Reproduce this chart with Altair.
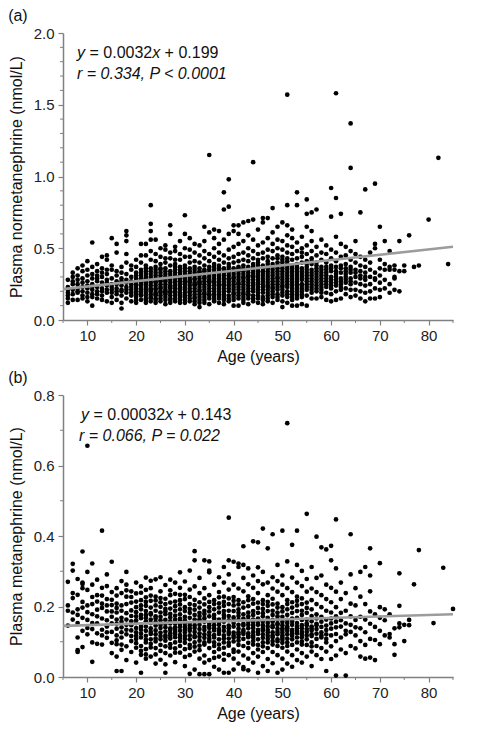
import altair as alt
import pandas as pd

# ---------------- Panel (a): plasma normetanephrine (nmol/L) by age ----------------
ages_a = [6, 7, 8, 9, 10, 11, 12, 13, 14, 15, 16, 17, 18, 19, 20, 21, 22, 23, 24, 25,
          26, 27, 28, 29, 30, 31, 32, 33, 34, 35, 36, 37, 38, 39, 40, 41, 42, 43, 44, 45,
          46, 47, 48, 49, 50, 51, 52, 53, 54, 55, 56, 57, 58, 59, 60, 61, 62, 63, 64, 65,
          66, 67, 68, 69, 70, 71, 72, 73, 74, 75, 76, 77, 78, 80, 82, 84]
nmn_a = [
    [0.12, 0.17, 0.19, 0.23, 0.28, 0.21, 0.15],
    [0.14, 0.21, 0.25, 0.30, 0.18, 0.27, 0.33],
    [0.19, 0.22, 0.28, 0.31, 0.36, 0.14, 0.25, 0.20],
    [0.17, 0.23, 0.26, 0.29, 0.34, 0.38, 0.20, 0.15],
    [0.16, 0.19, 0.24, 0.27, 0.31, 0.35, 0.22, 0.41, 0.13],
    [0.10, 0.18, 0.21, 0.25, 0.29, 0.32, 0.54, 0.37, 0.23, 0.16],
    [0.15, 0.20, 0.23, 0.27, 0.31, 0.34, 0.29, 0.39, 0.18],
    [0.17, 0.22, 0.26, 0.30, 0.33, 0.36, 0.20, 0.44, 0.14],
    [0.13, 0.19, 0.24, 0.28, 0.32, 0.42, 0.45, 0.26, 0.21, 0.35],
    [0.16, 0.21, 0.25, 0.29, 0.35, 0.38, 0.57, 0.23, 0.19, 0.12],
    [0.14, 0.18, 0.22, 0.27, 0.31, 0.34, 0.47, 0.53, 0.25, 0.20],
    [0.08, 0.12, 0.20, 0.24, 0.29, 0.33, 0.37, 0.21, 0.27, 0.17],
    [0.15, 0.19, 0.23, 0.28, 0.32, 0.46, 0.55, 0.62, 0.59, 0.40, 0.26, 0.21],
    [0.13, 0.17, 0.21, 0.25, 0.30, 0.35, 0.38, 0.27, 0.23, 0.19],
    [0.12, 0.16, 0.20, 0.24, 0.29, 0.33, 0.37, 0.42, 0.27, 0.19, 0.22, 0.14, 0.31, 0.18, 0.25],
    [0.14, 0.18, 0.22, 0.26, 0.31, 0.35, 0.40, 0.53, 0.28, 0.20, 0.17, 0.24, 0.45, 0.33, 0.21, 0.29],
    [0.12, 0.15, 0.19, 0.23, 0.27, 0.30, 0.34, 0.38, 0.45, 0.53, 0.21, 0.25, 0.17, 0.29, 0.32, 0.14, 0.36, 0.26],
    [0.13, 0.16, 0.20, 0.24, 0.28, 0.32, 0.36, 0.42, 0.48, 0.62, 0.67, 0.80, 0.22, 0.18, 0.26, 0.56, 0.30, 0.15, 0.34, 0.21],
    [0.12, 0.15, 0.19, 0.22, 0.26, 0.29, 0.33, 0.37, 0.41, 0.46, 0.56, 0.24, 0.17, 0.21, 0.31, 0.35, 0.27, 0.14, 0.18],
    [0.13, 0.17, 0.20, 0.23, 0.27, 0.31, 0.35, 0.39, 0.44, 0.50, 0.25, 0.19, 0.29, 0.15, 0.33, 0.22, 0.28, 0.36],
    [0.14, 0.18, 0.21, 0.25, 0.28, 0.32, 0.36, 0.40, 0.49, 0.52, 0.23, 0.16, 0.30, 0.43, 0.11, 0.20, 0.27, 0.34, 0.19],
    [0.12, 0.15, 0.19, 0.22, 0.26, 0.30, 0.34, 0.38, 0.43, 0.60, 0.66, 0.24, 0.17, 0.28, 0.20, 0.47, 0.32, 0.14, 0.23],
    [0.13, 0.17, 0.20, 0.24, 0.27, 0.31, 0.35, 0.39, 0.48, 0.51, 0.22, 0.29, 0.15, 0.33, 0.42, 0.19, 0.26, 0.37],
    [0.14, 0.18, 0.21, 0.25, 0.29, 0.33, 0.37, 0.42, 0.46, 0.55, 0.23, 0.19, 0.27, 0.31, 0.12, 0.16, 0.35, 0.22, 0.28],
    [0.12, 0.16, 0.19, 0.23, 0.27, 0.30, 0.34, 0.38, 0.44, 0.60, 0.73, 0.25, 0.21, 0.29, 0.17, 0.50, 0.32, 0.14, 0.26, 0.36],
    [0.13, 0.17, 0.20, 0.24, 0.28, 0.32, 0.36, 0.40, 0.49, 0.57, 0.22, 0.26, 0.15, 0.30, 0.44, 0.19, 0.34, 0.27],
    [0.11, 0.15, 0.18, 0.22, 0.26, 0.29, 0.33, 0.37, 0.41, 0.47, 0.24, 0.20, 0.28, 0.31, 0.53, 0.16, 0.35, 0.25, 0.13],
    [0.09, 0.14, 0.18, 0.21, 0.25, 0.29, 0.33, 0.36, 0.40, 0.45, 0.52, 0.23, 0.27, 0.16, 0.31, 0.12, 0.20, 0.34, 0.26],
    [0.12, 0.16, 0.19, 0.23, 0.27, 0.30, 0.34, 0.38, 0.43, 0.48, 0.55, 0.25, 0.21, 0.29, 0.35, 0.65, 0.18, 0.32, 0.14],
    [0.11, 0.15, 0.18, 0.22, 0.26, 0.30, 0.33, 0.37, 0.41, 0.46, 0.61, 1.15, 0.24, 0.20, 0.28, 0.32, 0.17, 0.35, 0.27],
    [0.13, 0.16, 0.20, 0.24, 0.27, 0.31, 0.35, 0.39, 0.44, 0.50, 0.57, 0.22, 0.26, 0.29, 0.18, 0.63, 0.33, 0.14, 0.37],
    [0.12, 0.15, 0.19, 0.23, 0.26, 0.30, 0.34, 0.38, 0.42, 0.47, 0.53, 0.62, 0.25, 0.21, 0.28, 0.32, 0.17, 0.36, 0.24],
    [0.11, 0.14, 0.18, 0.22, 0.25, 0.29, 0.33, 0.36, 0.40, 0.45, 0.56, 0.89, 0.77, 0.24, 0.27, 0.20, 0.31, 0.16, 0.35],
    [0.13, 0.17, 0.20, 0.24, 0.28, 0.31, 0.35, 0.39, 0.43, 0.49, 0.60, 0.98, 0.79, 0.26, 0.22, 0.29, 0.33, 0.15, 0.37],
    [0.10, 0.14, 0.18, 0.21, 0.25, 0.29, 0.32, 0.36, 0.40, 0.44, 0.51, 0.62, 0.23, 0.27, 0.19, 0.34, 0.66, 0.16, 0.30],
    [0.10, 0.15, 0.19, 0.23, 0.26, 0.30, 0.34, 0.37, 0.41, 0.46, 0.53, 0.66, 0.25, 0.21, 0.28, 0.32, 0.60, 0.17, 0.36],
    [0.12, 0.16, 0.19, 0.23, 0.27, 0.30, 0.34, 0.38, 0.42, 0.47, 0.55, 0.68, 0.25, 0.21, 0.29, 0.36, 0.14, 0.32, 0.18],
    [0.11, 0.15, 0.18, 0.22, 0.26, 0.30, 0.33, 0.37, 0.41, 0.45, 0.50, 0.59, 0.24, 0.20, 0.28, 0.35, 0.69, 0.17, 0.31],
    [0.13, 0.17, 0.20, 0.24, 0.28, 0.31, 0.35, 0.39, 0.43, 0.48, 0.56, 0.70, 1.10, 0.26, 0.22, 0.30, 0.37, 0.15, 0.33],
    [0.12, 0.15, 0.19, 0.23, 0.26, 0.30, 0.34, 0.38, 0.42, 0.46, 0.52, 0.63, 0.25, 0.21, 0.28, 0.32, 0.36, 0.17, 0.40],
    [0.11, 0.16, 0.19, 0.23, 0.27, 0.31, 0.34, 0.38, 0.43, 0.47, 0.54, 0.68, 0.25, 0.21, 0.29, 0.36, 0.71, 0.14, 0.33],
    [0.13, 0.17, 0.21, 0.24, 0.28, 0.32, 0.36, 0.39, 0.44, 0.49, 0.57, 0.71, 0.26, 0.23, 0.30, 0.34, 0.19, 0.41, 0.15],
    [0.12, 0.16, 0.20, 0.23, 0.27, 0.31, 0.35, 0.39, 0.43, 0.48, 0.53, 0.61, 0.78, 0.25, 0.29, 0.33, 0.37, 0.18, 0.22],
    [0.14, 0.18, 0.21, 0.25, 0.29, 0.32, 0.36, 0.40, 0.45, 0.50, 0.56, 0.65, 0.27, 0.23, 0.30, 0.34, 0.38, 0.16, 0.43],
    [0.09, 0.13, 0.17, 0.21, 0.24, 0.28, 0.32, 0.36, 0.40, 0.44, 0.49, 0.55, 0.68, 0.26, 0.30, 0.34, 0.38, 0.42, 0.19, 0.23],
    [0.12, 0.16, 0.20, 0.23, 0.27, 0.31, 0.35, 0.39, 0.43, 0.47, 0.52, 0.59, 0.80, 1.57, 0.25, 0.29, 0.33, 0.37, 0.66, 0.18, 0.41],
    [0.10, 0.14, 0.18, 0.22, 0.26, 0.30, 0.34, 0.38, 0.42, 0.46, 0.51, 0.57, 0.63, 0.24, 0.28, 0.32, 0.36, 0.20, 0.16],
    [0.10, 0.15, 0.19, 0.23, 0.27, 0.31, 0.35, 0.39, 0.43, 0.48, 0.54, 0.89, 0.80, 0.25, 0.29, 0.33, 0.37, 0.21, 0.17],
    [0.11, 0.16, 0.20, 0.24, 0.28, 0.32, 0.36, 0.40, 0.44, 0.50, 0.58, 0.25, 0.30, 0.34, 0.47, 0.22, 0.18],
    [0.10, 0.17, 0.21, 0.25, 0.29, 0.33, 0.37, 0.41, 0.46, 0.52, 0.84, 0.74, 0.65, 0.27, 0.31, 0.35, 0.23, 0.39],
    [0.15, 0.19, 0.23, 0.27, 0.31, 0.35, 0.39, 0.43, 0.48, 0.55, 0.75, 0.62, 0.29, 0.33, 0.41, 0.21, 0.25],
    [0.15, 0.20, 0.24, 0.28, 0.32, 0.36, 0.40, 0.45, 0.51, 0.77, 0.26, 0.30, 0.34, 0.22, 0.38],
    [0.16, 0.21, 0.25, 0.29, 0.33, 0.37, 0.42, 0.47, 0.56, 0.27, 0.31, 0.35, 0.23, 0.19],
    [0.14, 0.19, 0.23, 0.27, 0.31, 0.35, 0.40, 0.46, 0.52, 0.29, 0.33, 0.25, 0.37],
    [0.13, 0.18, 0.22, 0.26, 0.30, 0.34, 0.38, 0.43, 0.49, 0.92, 0.72, 0.28, 0.36, 0.24],
    [0.14, 0.20, 0.24, 0.28, 0.32, 0.37, 0.41, 0.47, 0.58, 1.58, 0.85, 0.30, 0.34, 0.26],
    [0.15, 0.21, 0.25, 0.29, 0.33, 0.38, 0.44, 0.53, 0.74, 0.27, 0.36, 0.23],
    [0.18, 0.22, 0.26, 0.30, 0.34, 0.39, 0.45, 0.51, 0.28, 0.32, 0.36],
    [0.16, 0.21, 0.25, 0.29, 0.33, 0.37, 0.42, 0.48, 1.37, 1.06, 0.35, 0.27],
    [0.17, 0.21, 0.26, 0.30, 0.35, 0.40, 0.46, 0.55, 0.33],
    [0.15, 0.20, 0.25, 0.29, 0.34, 0.38, 0.44, 0.75, 0.31],
    [0.13, 0.19, 0.24, 0.28, 0.33, 0.37, 0.42, 0.91, 0.30],
    [0.15, 0.20, 0.25, 0.30, 0.35, 0.40, 0.47],
    [0.15, 0.22, 0.28, 0.29, 0.33, 0.53, 0.50, 0.95],
    [0.16, 0.21, 0.26, 0.31, 0.36, 0.65, 0.42],
    [0.22, 0.28, 0.35, 0.39, 0.55],
    [0.19, 0.25, 0.37, 0.35, 0.48],
    [0.21, 0.29, 0.30, 0.38, 0.35],
    [0.20, 0.34, 0.55],
    [0.34, 0.38],
    [0.59],
    [0.37],
    [0.38],
    [0.70],
    [1.13],
    [0.39],
]

# ---------------- Panel (b): plasma metanephrine (nmol/L) by age ----------------
ages_b = [6, 7, 8, 9, 10, 11, 12, 13, 14, 15, 16, 17, 18, 19, 20, 21, 22, 23, 24, 25,
          26, 27, 28, 29, 30, 31, 32, 33, 34, 35, 36, 37, 38, 39, 40, 41, 42, 43, 44, 45,
          46, 47, 48, 49, 50, 51, 52, 53, 54, 55, 56, 57, 58, 59, 60, 61, 62, 63, 64, 65,
          66, 67, 68, 69, 70, 71, 72, 73, 74, 75, 76, 77, 78, 81, 83, 85]
mn_b = [
    [0.27, 0.203, 0.146, 0.188],
    [0.321, 0.302, 0.183, 0.224, 0.163, 0.238],
    [0.071, 0.112, 0.153, 0.192, 0.233, 0.278, 0.176, 0.076],
    [0.085, 0.131, 0.168, 0.213, 0.268, 0.356, 0.252, 0.197, 0.264],
    [0.656, 0.121, 0.162, 0.203, 0.247, 0.298, 0.184, 0.139],
    [0.043, 0.098, 0.136, 0.178, 0.227, 0.322, 0.262, 0.207, 0.153],
    [0.124, 0.152, 0.191, 0.232, 0.276, 0.214, 0.172, 0.094],
    [0.092, 0.134, 0.166, 0.208, 0.253, 0.415, 0.196, 0.231, 0.118],
    [0.111, 0.143, 0.186, 0.221, 0.258, 0.291, 0.161, 0.203, 0.127],
    [0.068, 0.097, 0.128, 0.171, 0.204, 0.241, 0.327, 0.186, 0.152, 0.219],
    [0.017, 0.058, 0.093, 0.118, 0.151, 0.183, 0.208, 0.252, 0.137, 0.196, 0.231, 0.104, 0.163],
    [0.017, 0.077, 0.112, 0.141, 0.168, 0.203, 0.238, 0.272, 0.127, 0.188, 0.157, 0.092],
    [0.048, 0.087, 0.121, 0.148, 0.181, 0.228, 0.262, 0.298, 0.163, 0.207, 0.134, 0.246],
    [0.071, 0.102, 0.132, 0.173, 0.211, 0.243, 0.147, 0.189, 0.116, 0.227, 0.158],
    [0.041, 0.083, 0.108, 0.139, 0.172, 0.198, 0.237, 0.268, 0.127, 0.184, 0.153, 0.096, 0.214, 0.117, 0.161],
    [0.012, 0.063, 0.088, 0.123, 0.149, 0.192, 0.218, 0.257, 0.142, 0.167, 0.203, 0.112, 0.239, 0.176, 0.134, 0.074],
    [0.052, 0.079, 0.117, 0.143, 0.168, 0.202, 0.247, 0.282, 0.131, 0.158, 0.187, 0.098, 0.226, 0.064, 0.213, 0.106, 0.176],
    [0.058, 0.094, 0.122, 0.153, 0.181, 0.216, 0.252, 0.273, 0.138, 0.177, 0.107, 0.197, 0.128, 0.163, 0.084, 0.231],
    [0.038, 0.082, 0.109, 0.146, 0.166, 0.203, 0.228, 0.277, 0.132, 0.156, 0.188, 0.101, 0.217, 0.121, 0.172, 0.064],
    [0.049, 0.091, 0.126, 0.148, 0.183, 0.212, 0.243, 0.283, 0.139, 0.171, 0.116, 0.199, 0.074, 0.161, 0.107, 0.224],
    [0.012, 0.068, 0.103, 0.129, 0.162, 0.193, 0.222, 0.261, 0.151, 0.118, 0.178, 0.087, 0.207, 0.036, 0.141, 0.112, 0.186],
    [0.061, 0.093, 0.124, 0.152, 0.179, 0.211, 0.246, 0.276, 0.138, 0.169, 0.109, 0.194, 0.133, 0.232, 0.158, 0.083, 0.117],
    [0.042, 0.081, 0.113, 0.141, 0.174, 0.201, 0.236, 0.268, 0.128, 0.163, 0.188, 0.098, 0.122, 0.214, 0.152, 0.069, 0.136],
    [0.069, 0.102, 0.131, 0.166, 0.192, 0.218, 0.253, 0.297, 0.119, 0.148, 0.178, 0.206, 0.088, 0.142, 0.159, 0.111, 0.233],
    [0.031, 0.079, 0.108, 0.142, 0.171, 0.198, 0.233, 0.271, 0.126, 0.161, 0.187, 0.097, 0.221, 0.152, 0.057, 0.134, 0.116],
    [0.009, 0.062, 0.091, 0.118, 0.153, 0.182, 0.207, 0.248, 0.302, 0.138, 0.168, 0.107, 0.193, 0.131, 0.227, 0.146, 0.082],
    [0.021, 0.072, 0.098, 0.128, 0.163, 0.191, 0.219, 0.257, 0.357, 0.117, 0.147, 0.176, 0.086, 0.204, 0.331, 0.139, 0.113],
    [0.008, 0.052, 0.089, 0.114, 0.148, 0.173, 0.212, 0.238, 0.281, 0.136, 0.163, 0.103, 0.197, 0.076, 0.124, 0.158, 0.182],
    [0.008, 0.061, 0.098, 0.133, 0.157, 0.188, 0.223, 0.252, 0.331, 0.121, 0.142, 0.179, 0.092, 0.206, 0.041, 0.111, 0.167],
    [0.008, 0.048, 0.082, 0.108, 0.139, 0.172, 0.198, 0.232, 0.302, 0.328, 0.127, 0.153, 0.186, 0.101, 0.213, 0.297, 0.146, 0.118],
    [0.029, 0.071, 0.098, 0.132, 0.158, 0.192, 0.218, 0.262, 0.119, 0.147, 0.176, 0.088, 0.207, 0.138, 0.054, 0.167, 0.112],
    [0.021, 0.058, 0.092, 0.122, 0.148, 0.183, 0.209, 0.241, 0.283, 0.136, 0.163, 0.107, 0.197, 0.079, 0.226, 0.128, 0.154],
    [0.012, 0.049, 0.083, 0.109, 0.142, 0.168, 0.202, 0.228, 0.268, 0.312, 0.131, 0.157, 0.187, 0.098, 0.213, 0.066, 0.118, 0.176],
    [0.012, 0.062, 0.097, 0.128, 0.161, 0.188, 0.223, 0.248, 0.291, 0.452, 0.122, 0.146, 0.173, 0.089, 0.207, 0.138, 0.331, 0.109],
    [0.021, 0.052, 0.078, 0.112, 0.143, 0.169, 0.203, 0.227, 0.262, 0.327, 0.126, 0.153, 0.187, 0.101, 0.216, 0.118, 0.071, 0.161],
    [0.038, 0.072, 0.103, 0.127, 0.162, 0.192, 0.218, 0.251, 0.312, 0.121, 0.148, 0.173, 0.091, 0.206, 0.137, 0.322, 0.113, 0.182],
    [0.028, 0.061, 0.088, 0.122, 0.151, 0.178, 0.212, 0.243, 0.281, 0.318, 0.371, 0.133, 0.166, 0.108, 0.197, 0.128, 0.022, 0.146],
    [0.019, 0.052, 0.082, 0.113, 0.138, 0.172, 0.201, 0.229, 0.263, 0.308, 0.124, 0.157, 0.183, 0.097, 0.218, 0.148, 0.117, 0.163],
    [0.041, 0.068, 0.102, 0.128, 0.163, 0.187, 0.221, 0.253, 0.288, 0.118, 0.147, 0.176, 0.092, 0.208, 0.139, 0.112, 0.385, 0.156],
    [0.012, 0.058, 0.091, 0.122, 0.148, 0.182, 0.211, 0.238, 0.272, 0.311, 0.382, 0.134, 0.166, 0.107, 0.196, 0.128, 0.153, 0.078],
    [0.031, 0.071, 0.098, 0.132, 0.158, 0.193, 0.218, 0.263, 0.298, 0.421, 0.121, 0.147, 0.172, 0.087, 0.207, 0.138, 0.111, 0.181],
    [0.017, 0.051, 0.082, 0.108, 0.143, 0.168, 0.202, 0.232, 0.268, 0.365, 0.126, 0.153, 0.187, 0.098, 0.213, 0.117, 0.162, 0.133],
    [0.039, 0.071, 0.102, 0.127, 0.162, 0.188, 0.222, 0.251, 0.283, 0.405, 0.118, 0.146, 0.176, 0.092, 0.206, 0.141, 0.113, 0.157],
    [0.012, 0.062, 0.088, 0.121, 0.152, 0.183, 0.208, 0.242, 0.272, 0.318, 0.137, 0.163, 0.107, 0.197, 0.128, 0.101, 0.148, 0.172],
    [0.021, 0.052, 0.083, 0.112, 0.138, 0.171, 0.198, 0.232, 0.262, 0.288, 0.415, 0.126, 0.157, 0.186, 0.097, 0.118, 0.147, 0.133, 0.106],
    [0.038, 0.072, 0.098, 0.131, 0.162, 0.192, 0.218, 0.252, 0.328, 0.72, 0.121, 0.143, 0.176, 0.088, 0.207, 0.138, 0.109, 0.153],
    [0.029, 0.062, 0.091, 0.122, 0.148, 0.182, 0.212, 0.241, 0.282, 0.375, 0.134, 0.166, 0.107, 0.197, 0.128, 0.158, 0.117],
    [0.048, 0.078, 0.112, 0.138, 0.168, 0.203, 0.228, 0.268, 0.318, 0.415, 0.124, 0.153, 0.187, 0.098, 0.216, 0.143, 0.131],
    [0.041, 0.068, 0.101, 0.128, 0.162, 0.188, 0.223, 0.258, 0.301, 0.121, 0.147, 0.176, 0.092, 0.207, 0.138, 0.113],
    [0.058, 0.091, 0.118, 0.152, 0.182, 0.211, 0.242, 0.278, 0.463, 0.136, 0.163, 0.107, 0.196, 0.128, 0.147],
    [0.031, 0.072, 0.098, 0.132, 0.158, 0.192, 0.218, 0.251, 0.312, 0.121, 0.143, 0.173, 0.087, 0.138, 0.116],
    [0.062, 0.088, 0.123, 0.151, 0.178, 0.207, 0.241, 0.281, 0.398, 0.136, 0.166, 0.108, 0.147],
    [0.051, 0.082, 0.112, 0.142, 0.171, 0.198, 0.232, 0.288, 0.368, 0.127, 0.157, 0.118],
    [0.017, 0.072, 0.098, 0.133, 0.163, 0.188, 0.221, 0.262, 0.362, 0.121, 0.146, 0.108],
    [0.051, 0.087, 0.118, 0.152, 0.183, 0.212, 0.253, 0.331, 0.372, 0.137, 0.166],
    [0.004, 0.061, 0.102, 0.141, 0.172, 0.198, 0.242, 0.308, 0.447, 0.122, 0.157],
    [0.078, 0.112, 0.143, 0.182, 0.221, 0.268, 0.161],
    [0.004, 0.068, 0.121, 0.152, 0.188, 0.238, 0.131],
    [0.088, 0.128, 0.172, 0.208, 0.291, 0.405, 0.148],
    [0.081, 0.118, 0.162, 0.203, 0.252, 0.141],
    [0.058, 0.102, 0.138, 0.171, 0.228, 0.298],
    [0.052, 0.091, 0.127, 0.163, 0.207, 0.312],
    [0.055, 0.108, 0.151, 0.186, 0.288, 0.243, 0.365],
    [0.048, 0.105, 0.142, 0.178],
    [0.093, 0.131, 0.168, 0.323, 0.198],
    [0.118, 0.161, 0.192],
    [0.112, 0.122, 0.178],
    [0.063, 0.093, 0.138],
    [0.141, 0.152, 0.294, 0.202],
    [0.148, 0.102],
    [0.162, 0.147],
    [0.263],
    [0.36],
    [0.153],
    [0.31],
    [0.193],
]

# fitted lines (end points)
fit_age = [5, 85]
fit_a = [0.215, 0.51]
fit_b = [0.145, 0.178]

# axis tick values
x_major = [10, 20, 30, 40, 50, 60, 70, 80]
x_minor = [5, 15, 25, 35, 45, 55, 65, 75, 85]
ya_major = [0.0, 0.5, 1.0, 1.5, 2.0]
ya_minor = [0.1, 0.2, 0.3, 0.4, 0.6, 0.7, 0.8, 0.9, 1.1, 1.2, 1.3, 1.4, 1.6, 1.7, 1.8, 1.9]
yb_major = [0.0, 0.2, 0.4, 0.6, 0.8]
yb_minor = [0.1, 0.3, 0.5, 0.7]

FONT = "Liberation Sans"
AX = "#808080"
W = 390
FS = 16


def expand(ages, vals):
    rows = [(a, v) for a, vs in zip(ages, vals) for v in vs]
    return pd.DataFrame(rows, columns=["age", "val"])


def txt(s, x, y, italic=False):
    return alt.Chart(pd.DataFrame({"t": [s]})).mark_text(
        align="left", baseline="middle", font=FONT, fontSize=FS,
        fontStyle="italic" if italic else "normal", color="#111111"
    ).encode(text="t:N", x=alt.value(x), y=alt.value(y))


def panel(df, H, ytitle, ydom, ymaj, ymin, fit_vals, eq_parts, eq_offsets, line2, x0_1, x0_2, label):
    xs = alt.Scale(domain=[5, 85], nice=False, zero=False)
    ys = alt.Scale(domain=ydom, nice=False, zero=False)
    xax = alt.Axis(values=x_major, format="d", title="Age (years)", titlePadding=5, labelPadding=3)
    yax = alt.Axis(values=ymaj, format=".1f", title=ytitle, titlePadding=9)
    X = alt.X("age:Q", scale=xs, axis=xax)
    Y = alt.Y("val:Q", scale=ys, axis=yax)
    pts = alt.Chart(df).mark_circle(size=22, color="black", opacity=1).encode(x=X, y=Y)
    fit = alt.Chart(pd.DataFrame({"age": fit_age, "val": fit_vals})).mark_line(
        color="#9c9c9c", strokeWidth=2.6
    ).encode(x=X, y=Y)
    ymt = alt.Chart(pd.DataFrame({"val": ymin})).mark_rule(color=AX, strokeWidth=1).encode(
        y=Y, x=alt.value(-3), x2=alt.value(0))
    xmt = alt.Chart(pd.DataFrame({"age": x_minor})).mark_rule(color=AX, strokeWidth=1).encode(
        x=X, y=alt.value(H), y2=alt.value(H + 3))
    texts = []
    for (s, it), off in zip(eq_parts, eq_offsets):
        texts.append(txt(s, x0_1 + off, 20, it))
    texts.append(txt(line2, x0_2, 41, True))
    return alt.layer(pts, fit, ymt, xmt, *texts).properties(
        width=W, height=H,
        title=alt.Title(label, anchor="start", frame="bounds", fontSize=FS, font=FONT,
                        fontWeight="normal", color="#111111", offset=2),
    )


pa = panel(expand(ages_a, nmn_a), 287, "Plasma normetanephrine (nmol/L)", [0, 2.0], ya_major, ya_minor,
           fit_a, [("y", True), ("= 0.0032", False), ("x", True), ("+ 0.199", False)],
           [0, 12.5, 75.2, 87.6], "r = 0.334,  P < 0.0001", 14, 14, "(a)")
pb = panel(expand(ages_b, mn_b), 282, "Plasma metanephrine (nmol/L)", [0, 0.8], yb_major, yb_minor,
           fit_b, [("y", True), ("= 0.00032", False), ("x", True), ("+ 0.143", False)],
           [0, 12.5, 84.1, 96.5], "r = 0.066,  P = 0.022", 18, 16, "(b)")

chart = alt.vconcat(pa, pb, spacing=6).properties(
    padding={"left": 0, "top": 0, "right": 0, "bottom": 5}
).configure_view(stroke=None).configure_axis(
    labelFont=FONT, titleFont=FONT, labelFontSize=15, titleFontSize=FS,
    titleFontWeight="normal", domainColor=AX, tickColor=AX, tickSize=5,
    domainWidth=1.5, tickWidth=1.2, labelColor="#222222", titleColor="#111111",
    grid=False, labelPadding=4, titlePadding=10,
)

chart.save("out.html", embed_options={"renderer": "svg", "actions": False})
